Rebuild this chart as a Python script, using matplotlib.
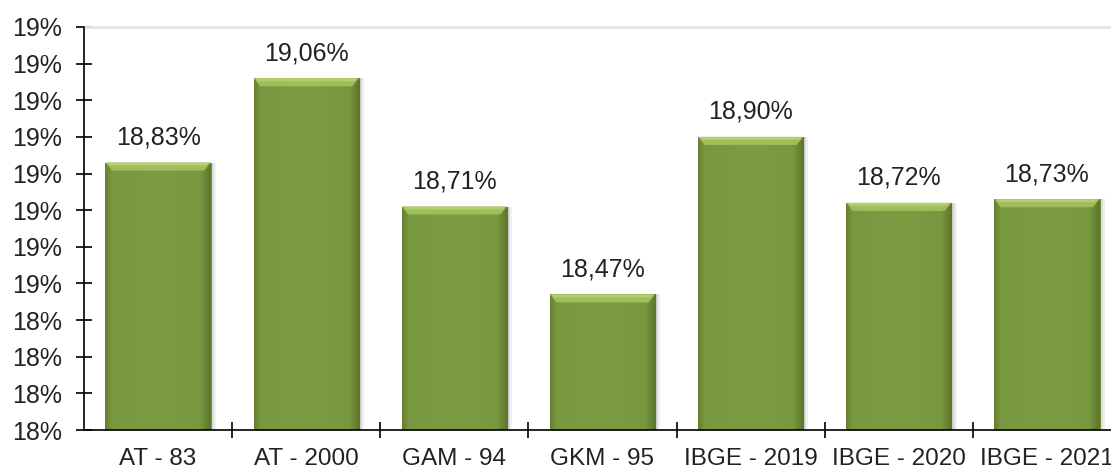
import numpy as np
import matplotlib
matplotlib.use("Agg")
import matplotlib.pyplot as plt
from matplotlib.colors import LinearSegmentedColormap

plt.rcParams['font.family'] = ['Liberation Sans', 'DejaVu Sans']

categories = ["AT - 83", "AT - 2000", "GAM - 94", "GKM - 95", "IBGE - 2019", "IBGE - 2020", "IBGE - 2021"]
values = [18.83, 19.06, 18.71, 18.47, 18.90, 18.72, 18.73]
y_ticks = [18.1, 18.2, 18.3, 18.4, 18.5, 18.6, 18.7, 18.8, 18.9, 19.0, 19.1, 19.2]
y_tick_labels = ["18%", "18%", "18%", "18%", "19%", "19%", "19%", "19%", "19%", "19%", "19%", "19%"]
value_labels = ["18,83%", "19,06%", "18,71%", "18,47%", "18,90%", "18,72%", "18,73%"]

fig = plt.figure(figsize=(11.11, 4.68), dpi=100)
ax = fig.add_axes([84/1111, 38/468, 1037/1111, 403/468])

ymin, ymax = 18.1, 19.2
ax.set_ylim(ymin, ymax)
ax.set_xlim(-0.5, len(categories) - 0.5)

x = np.arange(len(categories))
width = 0.71

cmap = LinearSegmentedColormap.from_list(
    "g", [(0.0, "#667f31"), (0.06, "#789840"), (0.5, "#7d9c42"),
          (0.9, "#789840"), (1.0, "#5c752b")])
grad = np.linspace(0, 1, 256).reshape(1, -1)

# soft shadows
for off, a in [(0.035, 0.12), (0.022, 0.18), (0.012, 0.22)]:
    ax.bar(x + off, [v - ymin for v in values], width, bottom=ymin,
           color="#8a8a8a", alpha=a, zorder=1, linewidth=0)

bars = ax.bar(x, [v - ymin for v in values], width, bottom=ymin,
              color="#7b9a41", edgecolor="#6f8c39", linewidth=0.6, zorder=2)
for b in bars:
    x0 = b.get_x()
    w = b.get_width()
    y1 = b.get_y() + b.get_height()
    im = ax.imshow(grad, cmap=cmap, aspect="auto",
                   extent=(x0, x0 + w, ymin, y1), zorder=2.5)
    im.set_clip_path(b)
    # light bevel at the top
    ax.fill([x0, x0 + w, x0 + w - 0.045, x0 + 0.045],
            [y1, y1, y1 - 0.022, y1 - 0.022],
            color="#9fbd5a", zorder=3, linewidth=0)
    ax.fill([x0 + 0.01, x0 + w - 0.01, x0 + w - 0.03, x0 + 0.03],
            [y1, y1, y1 - 0.008, y1 - 0.008],
            color="#b3cf72", zorder=3.1, linewidth=0)

for xi, v, lab in zip(x, values, value_labels):
    ax.annotate(lab, (xi, v), xytext=(0, 13), textcoords="offset points",
                ha="center", va="baseline", fontsize=18, color="#222222")

ax.set_yticks(y_ticks)
ax.set_yticklabels(y_tick_labels)
ax.tick_params(axis="y", direction="inout", length=11.5, width=1.2,
               labelsize=18, labelcolor="#222222", pad=10)

ax.set_xticks(x)
ax.set_xticklabels(categories)
ax.tick_params(axis="x", which="major", length=0, labelsize=17.5,
               labelcolor="#222222", pad=13)
ax.set_xticks(np.arange(len(categories)) + 0.5, minor=True)
ax.tick_params(axis="x", which="minor", direction="inout", length=11, width=1.2)

ax.spines["right"].set_visible(False)
ax.spines["top"].set_color("#e4e4e4")
ax.spines["top"].set_linewidth(2)
ax.spines["left"].set_linewidth(1.2)
ax.spines["bottom"].set_linewidth(1.2)
ax.spines["left"].set_zorder(5)
ax.spines["bottom"].set_zorder(5)

fig.savefig("out.png", dpi=100)
